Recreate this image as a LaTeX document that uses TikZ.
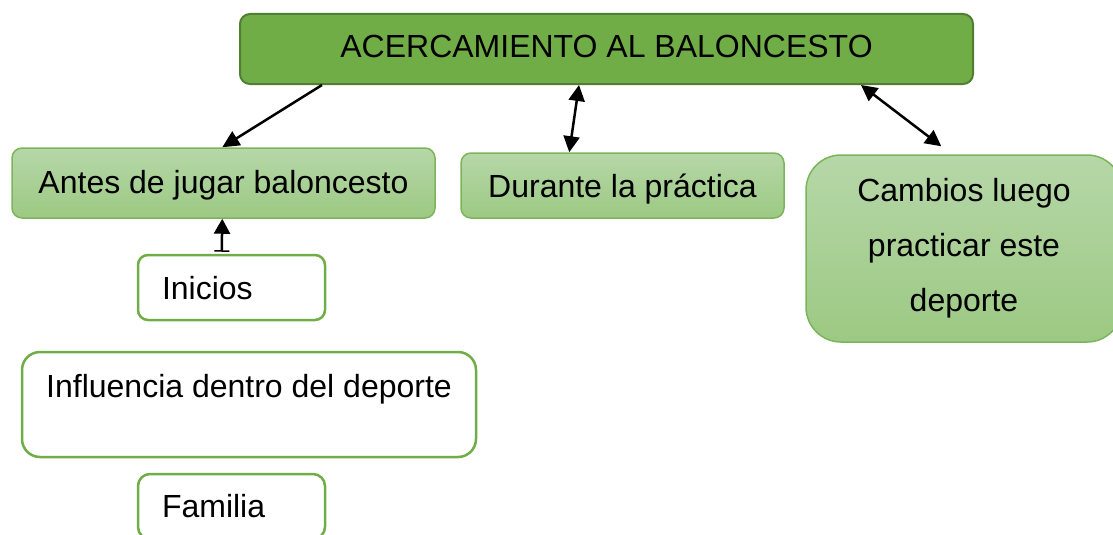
\documentclass[tikz,border=0pt]{standalone}
\usepackage{fontspec}
\setmainfont{Liberation Sans}
\usetikzlibrary{arrows.meta}
\definecolor{topfill}{HTML}{70AD47}
\definecolor{topdraw}{HTML}{507E32}
\definecolor{lighttop}{HTML}{B6D7A8}
\definecolor{lightbot}{HTML}{9CC983}
\definecolor{lightdraw}{HTML}{7CB45A}
\definecolor{whitedraw}{HTML}{70AD47}
\begin{document}
\begin{tikzpicture}[x=1pt,y=-1pt,
  every node/.style={font=\fontsize{32}{38}\selectfont, inner sep=0pt, text depth=0pt},
  mainbox/.style={draw=topdraw, line width=2pt, fill=topfill, rounded corners=10pt},
  lightbox/.style={draw=lightdraw, line width=1.5pt, top color=lighttop, bottom color=lightbot, rounded corners=10pt},
  whitebox/.style={draw=whitedraw, line width=2.5pt, fill=white, rounded corners=10pt},
  conn/.style={line width=2.5pt, -{Triangle[length=17pt,width=16pt]}},
  biconn/.style={line width=2.5pt, {Triangle[length=16pt,width=16pt]}-{Triangle[length=16pt,width=16pt]}}
]
\useasboundingbox (0,0) rectangle (1113,535);
% top
\node[mainbox, minimum width=733pt, minimum height=70pt, text height=18pt] (top) at (606.5,49) {ACERCAMIENTO AL BALONCESTO};
% second row
\node[lightbox, minimum width=423pt, minimum height=70pt, text height=20pt] (antes) at (223.5,183) {Antes de jugar baloncesto};
\node[lightbox, minimum width=323pt, minimum height=65pt, text height=23pt] (durante) at (622.5,185.5) {Durante la práctica};
\node[lightbox, rounded corners=35pt, minimum width=316pt, minimum height=187pt, align=center, font=\fontsize{32}{55}\selectfont, text depth=] (cambios) at (964,248.5) {Cambios luego\\practicar este\\deporte};
% white boxes
\node[whitebox, minimum height=65pt, text width=139pt, inner xsep=24pt, align=left, text height=23pt] (inicios) at (231.5,287.5) {Inicios};
\node[whitebox, rounded corners=18pt, minimum width=454pt, minimum height=105pt, text height=22pt, text depth=37pt] (influencia) at (249,404.5) {Influencia dentro del deporte};
\node[whitebox, rounded corners=12pt, minimum height=65pt, text width=139pt, inner xsep=24pt, align=left, text height=21pt] (familia) at (231.5,506.5) {Familia};
% connectors
\draw[conn] ([xshift=83pt]top.south west) -- ([xshift=211pt]antes.north west);
\draw[biconn] ([xshift=340pt]top.south west) -- ([xshift=109pt]durante.north west);
\draw[biconn] ([xshift=622pt]top.south west) -- ([xshift=136pt,yshift=8pt]cambios.north west);
\draw[line width=2.5pt, {Bar[width=15pt,line width=1.5pt]}-{Triangle[length=15pt,width=16pt]}] ([xshift=85pt,yshift=2pt]inicios.north west) -- ([xshift=211pt]antes.south west);
\end{tikzpicture}
\end{document}
